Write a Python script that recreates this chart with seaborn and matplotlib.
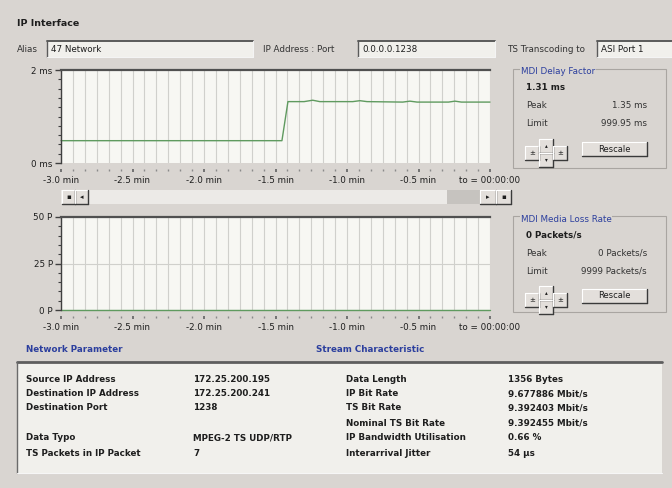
import matplotlib
matplotlib.use("Agg")
import matplotlib.pyplot as plt
from matplotlib.patches import Rectangle
from matplotlib.lines import Line2D
from matplotlib.ticker import FixedLocator, MultipleLocator
import seaborn as sns

W, H = 672, 488
BG = "#d9d5d1"
FIELD = "#f1f0ec"
PLOT_BG = "#f7f7f3"
BLUE = "#2c3f9e"
INK = "#1e1e1e"
GREEN = "#5f9a5f"

# MDI delay factor trace (minutes before t0, ms)
delay_t = [-3.0, -2.2, -1.455, -1.413, -1.30, -1.24, -1.19, -0.96, -0.91, -0.86,
           -0.61, -0.56, -0.51, -0.29, -0.245, -0.20, 0.0]
delay_ms = [0.48, 0.48, 0.48, 1.32, 1.32, 1.35, 1.32, 1.32, 1.34, 1.32,
            1.31, 1.33, 1.31, 1.31, 1.33, 1.31, 1.31]

# MDI media loss rate trace (packets/s)
loss_t = [-3.0, -1.5, 0.0]
loss_pps = [0, 0, 0]

tick_pos = [-3.0, -2.5, -2.0, -1.5, -1.0, -0.5, 0.0]
tick_labels = ["-3.0 min", "-2.5 min", "-2.0 min", "-1.5 min", "-1.0 min",
               "-0.5 min", "to = 00:00:00"]

net_labels = ["Source IP Address", "Destination IP Address", "Destination Port",
              "", "Data Typo", "TS Packets in IP Packet"]
net_values = ["172.25.200.195", "172.25.200.241", "1238", "",
              "MPEG-2 TS UDP/RTP", "7"]
stream_labels = ["Data Length", "IP Bit Rate", "TS Bit Rate", "Nominal TS Bit Rate",
                 "IP Bandwidth Utilisation", "Interarrival Jitter"]
stream_values = ["1356 Bytes", "9.677886 Mbit/s", "9.392403 Mbit/s",
                 "9.392455 Mbit/s", "0.66 %", "54 µs"]

sns.set_style("white")
plt.rcParams["font.family"] = ["DejaVu Sans"]

fig = plt.figure(figsize=(6.72, 4.88), dpi=100, facecolor=BG)


def fx(x):
    return x / W


def fy(y):
    return 1 - y / H


def txt(x, y, s, size=6.3, weight="normal", color=INK, ha="left", **kw):
    fig.text(fx(x), fy(y), s, size=size, weight=weight, color=color,
             ha=ha, va="center", **kw)


def box(x0, y0, x1, y1, fc, ec="none", lw=0):
    fig.add_artist(Rectangle((fx(x0), fy(y1)), fx(x1) - fx(x0), fy(y0) - fy(y1),
                             transform=fig.transFigure, fc=fc, ec=ec, lw=lw))


def line(x0, y0, x1, y1, color, lw=1):
    fig.add_artist(Line2D([fx(x0), fx(x1)], [fy(y0), fy(y1)],
                          transform=fig.transFigure, color=color, lw=lw))


def sunken(x0, y0, x1, y1, fc=FIELD):
    box(x0, y0, x1, y1, fc)
    line(x0, y0, x1, y0, "#5a5a5a", 1.4)
    line(x0, y0, x0, y1, "#5a5a5a", 1.0)
    line(x0, y1, x1, y1, "#f4f4f4", 0.8)
    line(x1, y0, x1, y1, "#f4f4f4", 0.8)


def raised(x0, y0, x1, y1, label="", size=5, fc="#e3dfdb"):
    box(x0, y0, x1, y1, fc)
    line(x0, y0, x1, y0, "white", 0.8)
    line(x0, y0, x0, y1, "white", 0.8)
    line(x0, y1, x1, y1, "#3a3a3a", 1.0)
    line(x1, y0, x1, y1, "#3a3a3a", 1.0)
    if label:
        txt((x0 + x1) / 2, (y0 + y1) / 2, label, size=size, ha="center")


def chart(top, bottom, x, y, ymax, ylabels, yminor):
    ax = fig.add_axes([fx(61), fy(bottom), fx(490) - fx(61), fy(top) - fy(bottom)])
    ax.set_facecolor(PLOT_BG)
    sns.lineplot(x=x, y=y, ax=ax, color=GREEN, lw=1, clip_on=False)
    ax.set_xlim(-3, 0)
    ax.set_ylim(0, ymax)
    ax.xaxis.set_major_locator(FixedLocator(tick_pos))
    ax.xaxis.set_minor_locator(MultipleLocator(1 / 12))
    ax.set_xticklabels(tick_labels)
    ax.yaxis.set_major_locator(FixedLocator([0, ymax / 2, ymax] if len(ylabels) == 3 else [0, ymax]))
    ax.set_yticklabels(ylabels)
    ax.yaxis.set_minor_locator(MultipleLocator(yminor))
    ax.grid(which="both", axis="x", color="#d0d0cc", lw=0.8)
    if len(ylabels) == 3:
        ax.grid(which="major", axis="y", color="#d0d0cc", lw=0.8)
    ax.set_axisbelow(True)
    ax.spines["right"].set_visible(False)
    ax.spines["bottom"].set_position(("outward", 4))
    ax.spines["bottom"].set_visible(False)
    ax.spines["top"].set_color("#505050")
    ax.spines["top"].set_linewidth(1.6)
    ax.spines["left"].set_color("#404040")
    ax.spines["left"].set_linewidth(1.0)
    ax.tick_params(axis="x", which="major", length=2.5, width=1.3, color="#6a6a6a",
                   labelsize=6.3, pad=3, labelcolor=INK, bottom=True)
    ax.tick_params(axis="x", which="minor", length=1.5, width=1.0, color="#8a8a8a",
                   bottom=True)
    ax.tick_params(axis="y", which="major", length=4, width=1.0, color="#404040",
                   labelsize=6.3, pad=2, labelcolor=INK, left=True)
    ax.tick_params(axis="y", which="minor", length=2, width=0.8, color="#404040", left=True)
    ax.set_xlabel("")
    ax.set_ylabel("")
    return ax


# header row
txt(17, 24, "IP Interface", size=6.8, weight="bold")
txt(17, 49, "Alias", color="#333333")
sunken(47, 41, 253, 57)
txt(51, 49, "47 Network")
txt(263, 49, "IP Address : Port", color="#333333")
sunken(358, 41, 495, 57)
txt(362, 49, "0.0.0.0.1238")
txt(507, 49, "TS Transcoding to", color="#333333")
sunken(597, 41, 672, 57)
txt(601, 49, "ASI Port 1")

# charts
chart(70, 163, delay_t, delay_ms, 2, ["0 ms", "2 ms"], 0.2)
chart(217, 310, loss_t, loss_pps, 50, ["0 P", "25 P", "50 P"], 5)

# scrollbar under delay chart
box(61, 190, 511, 204, "#eceae7")
box(447, 190, 480, 204, "#c6c3bf")
raised(62, 190, 75, 204, "▪")
raised(75, 190, 88, 204, "◂")
raised(480, 190, 496, 204, "▸")
raised(496, 190, 511, 204, "▪")


def mdi_panel(top, bottom, title, value, peak, limit):
    box(513, top, 666, bottom, "none", ec="#a9a5a1", lw=0.8)
    txt(521, top + 3, title, color=BLUE, size=6.3,
        bbox=dict(fc=BG, ec="none", pad=0.5))
    txt(526, top + 19, value, weight="bold")
    txt(526, top + 37, "Peak", color="#333333")
    txt(647, top + 37, peak, ha="right", color="#333333")
    txt(526, top + 55, "Limit", color="#333333")
    txt(647, top + 55, limit, ha="right", color="#333333")
    raised(525, top + 77, 539, top + 91, "±")
    raised(539, top + 70, 553, top + 84, "▴", size=4)
    raised(539, top + 84, 553, top + 98, "▾", size=4)
    raised(553, top + 77, 567, top + 91, "±")
    raised(582, top + 73, 647, top + 87, "Rescale", size=6)


mdi_panel(69, 168, "MDI Delay Factor", "1.31 ms", "1.35 ms", "999.95 ms")
mdi_panel(216, 312, "MDI Media Loss Rate", "0 Packets/s", "0 Packets/s", "9999 Packets/s")

# parameter tables
txt(26, 350, "Network Parameter", color=BLUE, weight="bold", size=6.3)
txt(316, 350, "Stream Characteristic", color=BLUE, weight="bold", size=6.3)
box(17, 362, 662, 473, FIELD)
line(17, 362, 662, 362, "#5e5e5e", 2.0)
line(17, 362, 17, 473, "#6a6a6a", 1.0)
line(17, 473, 662, 473, "#f6f6f6", 0.8)

rows_y = [379, 394, 408, 423, 438, 453]
for yy, lab, val in zip(rows_y, net_labels, net_values):
    txt(26, yy, lab, weight="bold")
    txt(193, yy, val, weight="bold")
for yy, lab, val in zip(rows_y, stream_labels, stream_values):
    txt(346, yy, lab, weight="bold")
    txt(508, yy, val, weight="bold")

fig.savefig("out.png", dpi=100, facecolor=BG)
